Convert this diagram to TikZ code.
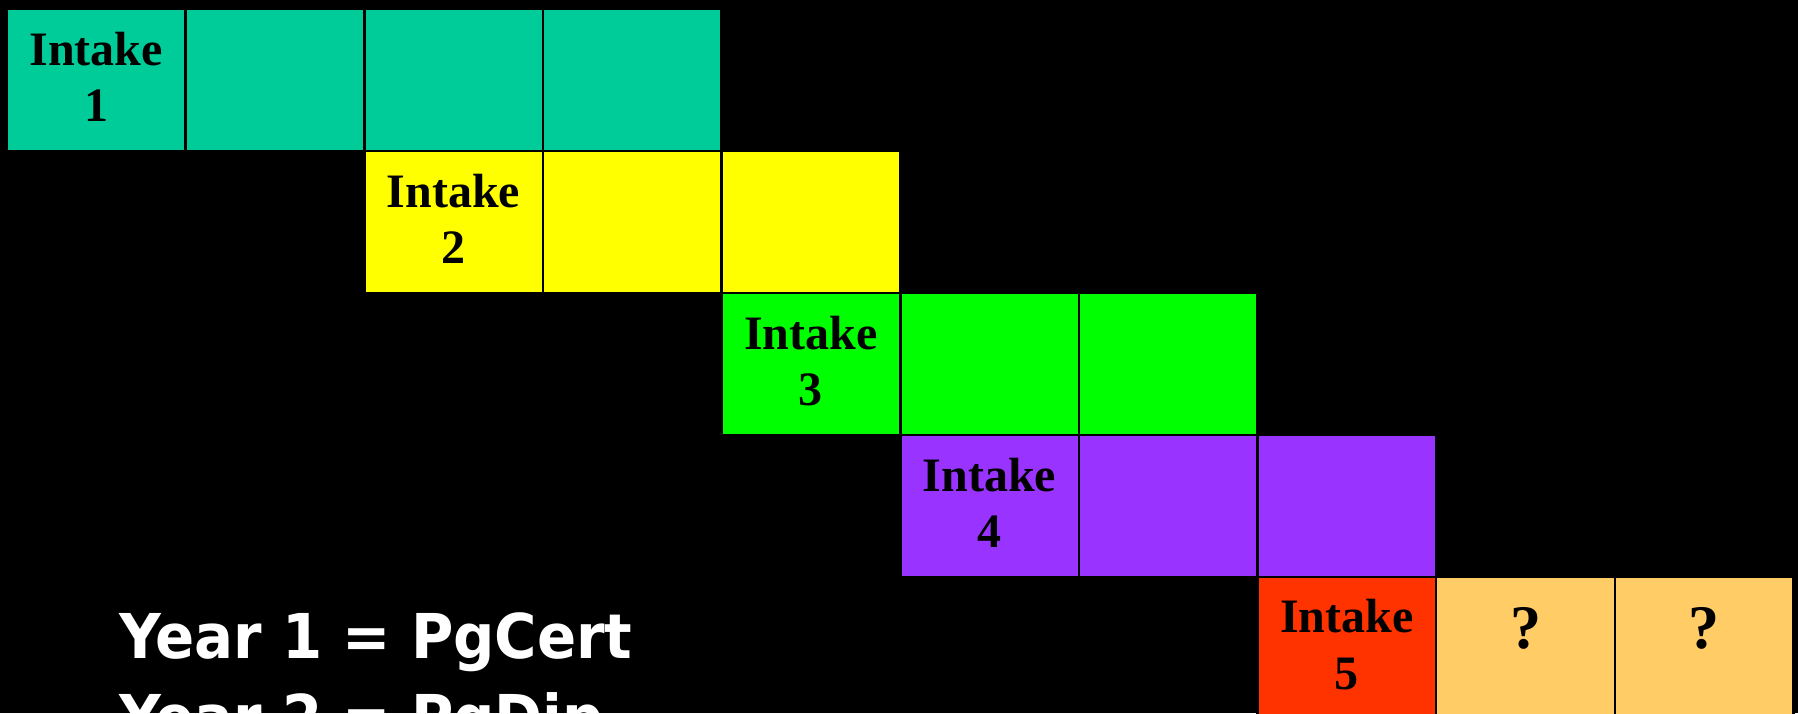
\documentclass[tikz,border=0pt]{standalone}
\usepackage{fontspec}
\setmainfont{Liberation Serif}
\newfontfamily\yearfont{DejaVu Sans}
\definecolor{cteal}{HTML}{00CC99}
\definecolor{cyel}{HTML}{FFFF00}
\definecolor{cgreen}{HTML}{00FF00}
\definecolor{cpurple}{HTML}{9933FF}
\definecolor{cred}{HTML}{FF3300}
\definecolor{corange}{HTML}{FFCC66}
\begin{document}
\begin{tikzpicture}[x=0.5pt,y=-0.5pt,
  cell/.style={draw=black, line width=1.25pt, minimum width=89.325pt, minimum height=70.95pt, inner sep=0pt, outer sep=0pt},
  lbl/.style={inner sep=0pt, outer sep=0pt, align=center, anchor=north, font=\bfseries\fontsize{24}{28.2}\selectfont},
  qlbl/.style={inner sep=0pt, outer sep=0pt, anchor=base, font=\bfseries\fontsize{31}{34}\selectfont},
  yr/.style={inner sep=0pt, outer sep=0pt, text=white, anchor=north west, font=\yearfont\bfseries\fontsize{30.9}{36}\selectfont}]
\useasboundingbox (0,0) rectangle (1798,713);
\fill[black] (0,0) rectangle (1798,713);
\clip (0,0) rectangle (1798,713);
% row 1
\node[cell, fill=cteal] (r1a) at (96.3,80.15) {};
\node[cell, fill=cteal] (r1b) at (274.98,80.15) {};
\node[cell, fill=cteal] (r1c) at (453.6,80.15) {};
\node[cell, fill=cteal] (r1d) at (632.3,80.15) {};
% row 2
\node[cell, fill=cyel] (r2a) at (453.6,222.05) {};
\node[cell, fill=cyel] (r2b) at (632.3,222.05) {};
\node[cell, fill=cyel] (r2c) at (810.9,222.05) {};
% row 3
\node[cell, fill=cgreen] (r3a) at (810.9,363.95) {};
\node[cell, fill=cgreen] (r3b) at (989.6,363.95) {};
\node[cell, fill=cgreen] (r3c) at (1168.2,363.95) {};
% row 4
\node[cell, fill=cpurple] (r4a) at (989.6,505.85) {};
\node[cell, fill=cpurple] (r4b) at (1168.2,505.85) {};
\node[cell, fill=cpurple] (r4c) at (1346.9,505.85) {};
% row 5
\node[cell, fill=cred] (r5a) at (1346.9,647.75) {};
\node[cell, fill=corange] (r5b) at (1525.5,647.75) {};
\node[cell, fill=corange] (r5c) at (1704.2,647.75) {};
% labels
\node[lbl] (t1) at ([yshift=-11.4pt]r1a.north) {Intake\\1};
\node[lbl] (t2) at ([yshift=-11.4pt]r2a.north) {Intake\\2};
\node[lbl] (t3) at ([yshift=-11.4pt]r3a.north) {Intake\\3};
\node[lbl] (t4) at ([yshift=-11.4pt]r4a.north) {Intake\\4};
\node[lbl] (t5) at ([yshift=-11.4pt]r5a.north) {Intake\\5};
\node[qlbl] (q1) at (1525.5,648.3) {?};
\node[qlbl] (q2) at (1704.2,648.3) {?};
% year text
\node[yr] (y1) at (119,613) {\scalebox{0.935}[1]{Year 1 = PgCert}};
\node[yr] (y2) at (119,693) {\scalebox{0.935}[1]{Year 2 = PgDip}};
\end{tikzpicture}
\end{document}
